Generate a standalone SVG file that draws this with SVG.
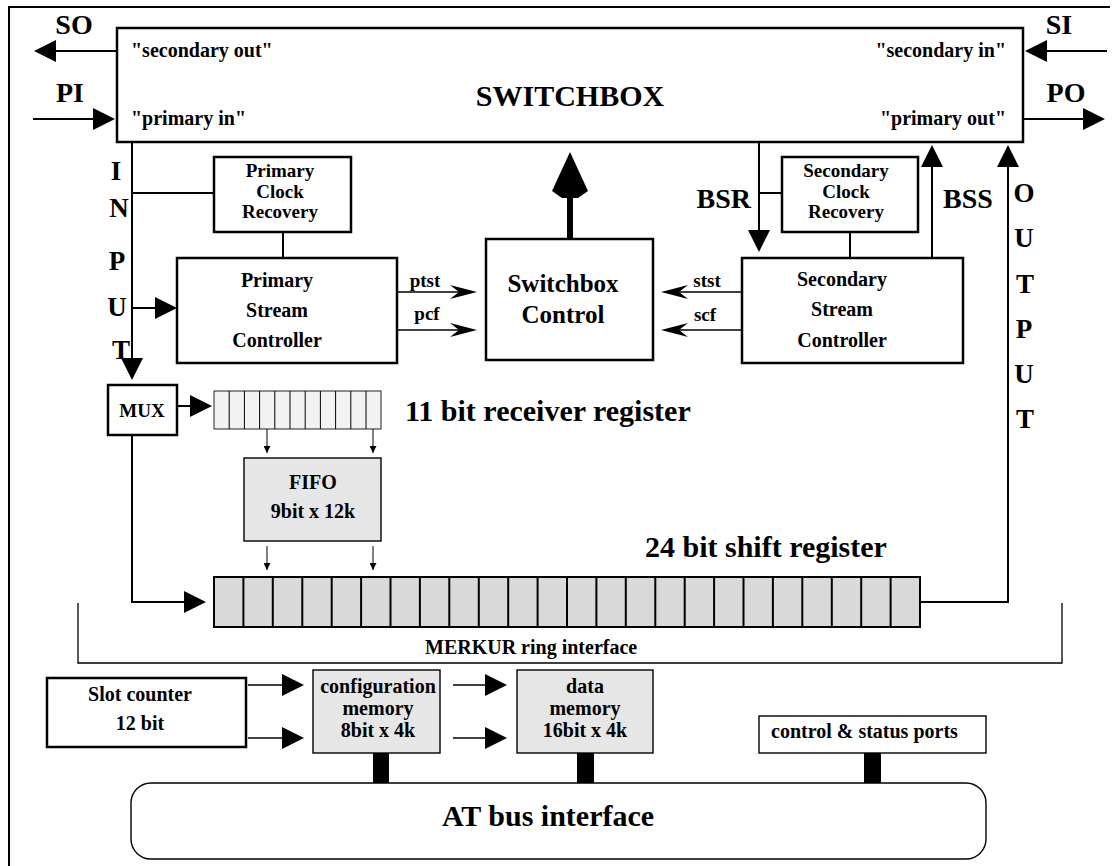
<svg xmlns="http://www.w3.org/2000/svg" width="1112" height="866" viewBox="0 0 1112 866">
<style>
.t{font-family:"Liberation Serif","Times New Roman",serif;font-weight:bold;fill:#000}
.m{text-anchor:middle}.e{text-anchor:end}
.f20{font-size:20px}.f19{font-size:19px}.f25{font-size:25px}.f27{font-size:27px}.f28{font-size:28px}.f30{font-size:30px}
.box{fill:#fff;stroke:#000;stroke-width:2.5}
.lbox{fill:#fff;stroke:#000;stroke-width:1.4}
.gbox{fill:#e6e6e6;stroke:#000;stroke-width:1.4}
.w{fill:none;stroke:#000;stroke-width:2}
.thin{fill:none;stroke:#000;stroke-width:1.3}
.hair{fill:none;stroke:#000;stroke-width:1}
.rx{fill:#f2f2f2;stroke:#222;stroke-width:1}
.sh{fill:#d9d9d9;stroke:#000;stroke-width:2}
.bar{fill:#000}
</style>
<defs>
<marker id="big" markerUnits="userSpaceOnUse" markerWidth="22" markerHeight="22" refX="16" refY="11" orient="auto"><path d="M0,0 L22,11 L0,22 Z" fill="#000"/></marker>
<marker id="stl" markerUnits="userSpaceOnUse" markerWidth="27" markerHeight="14" refX="21" refY="7" orient="auto"><path d="M0,0 L27,7 L0,14 L9,7 Z" fill="#000"/></marker>
<marker id="sm" markerUnits="userSpaceOnUse" markerWidth="7" markerHeight="7" refX="7" refY="3.5" orient="auto"><path d="M0,0 L7,3.5 L0,7 Z" fill="#000"/></marker>
</defs>
<rect width="1112" height="866" fill="#fff"/>
<g id="frame"><path class="w" d="M9,866 V7 H1110"/></g>

<g id="switchbox">
<rect class="box" x="117" y="28" width="906" height="114"/>
<text class="t f30 m" x="570" y="106">SWITCHBOX</text>
<text class="t f20" x="131" y="57">&quot;secondary out&quot;</text>
<text class="t f20" x="131" y="125">&quot;primary in&quot;</text>
<text class="t f20 e" x="1006" y="57">&quot;secondary in&quot;</text>
<text class="t f20 e" x="1006" y="125">&quot;primary out&quot;</text>
</g>
<g id="ports">
<text class="t f28 m" x="74" y="34">SO</text>
<text class="t f28 m" x="70" y="102">PI</text>
<text class="t f28 m" x="1059" y="34">SI</text>
<text class="t f28 m" x="1066" y="102">PO</text>
</g>
<g id="input-label">
<text class="t f27 m" x="116" y="180">I</text>
<text class="t f27 m" x="119" y="217">N</text>
<text class="t f27 m" x="117" y="270">P</text>
<text class="t f27 m" x="117" y="316">U</text>
<text class="t f27 m" x="121" y="359">T</text>
</g>
<g id="output-label">
<text class="t f27 m" x="1024" y="202">O</text>
<text class="t f27 m" x="1024" y="247">U</text>
<text class="t f27 m" x="1025" y="293">T</text>
<text class="t f27 m" x="1024" y="338">P</text>
<text class="t f27 m" x="1024" y="383">U</text>
<text class="t f27 m" x="1025" y="428">T</text>
</g>
<g id="pcr">
<rect class="box" x="214" y="157" width="137" height="75"/>
<text class="t f19 m" x="280" y="177">Primary</text>
<text class="t f19 m" x="280" y="198">Clock</text>
<text class="t f19 m" x="280" y="218">Recovery</text>
</g>
<g id="scr">
<rect class="box" x="782" y="157" width="136" height="75"/>
<text class="t f19 m" x="846" y="177">Secondary</text>
<text class="t f19 m" x="846" y="198">Clock</text>
<text class="t f19 m" x="846" y="218">Recovery</text>
</g>
<g id="psc">
<rect class="box" x="177" y="258" width="220" height="105"/>
<text class="t f20 m" x="277" y="287">Primary</text>
<text class="t f20 m" x="277" y="317">Stream</text>
<text class="t f20 m" x="277" y="347">Controller</text>
</g>
<g id="ssc">
<rect class="box" x="742" y="258" width="221" height="105"/>
<text class="t f20 m" x="842" y="286">Secondary</text>
<text class="t f20 m" x="842" y="316">Stream</text>
<text class="t f20 m" x="842" y="347">Controller</text>
</g>
<g id="sbc">
<rect class="box" x="486" y="239" width="167" height="121"/>
<text class="t f25 m" x="563" y="292">Switchbox</text>
<text class="t f25 m" x="563" y="323">Control</text>
</g>
<g id="mux">
<rect class="box" x="108" y="385" width="69" height="50"/>
<text class="t f19 m" x="142" y="417">MUX</text>
</g>
<g id="rxreg">
<rect class="rx" x="214" y="391" width="167" height="38"/>
<path class="hair" d="M229.2,391V429M244.4,391V429M259.6,391V429M274.8,391V429M290,391V429M305.2,391V429M320.4,391V429M335.6,391V429M350.8,391V429M366,391V429"/>
<text class="t f30" x="405" y="421">11 bit receiver register</text>
</g>
<g id="fifo">
<rect class="gbox" x="244" y="458" width="137" height="83"/>
<text class="t f20 m" x="313" y="489">FIFO</text>
<text class="t f20 m" x="313" y="518">9bit x 12k</text>
</g>
<g id="shiftreg">
<rect class="sh" x="214" y="577" width="706" height="50"/>
<path class="w" d="M243.4,577V627M272.8,577V627M302.3,577V627M331.7,577V627M361.1,577V627M390.5,577V627M419.9,577V627M449.3,577V627M478.8,577V627M508.2,577V627M537.6,577V627M567,577V627M596.4,577V627M625.8,577V627M655.3,577V627M684.7,577V627M714.1,577V627M743.5,577V627M772.9,577V627M802.3,577V627M831.8,577V627M861.2,577V627M890.6,577V627"/>
<text class="t f30" x="645" y="557">24 bit shift register</text>
</g>
<g id="merkur">
<path class="thin" d="M78,603 V663 H1062 V603"/>
<text class="t f20" x="425" y="654">MERKUR ring interface</text>
</g>
<g id="slot">
<rect class="box" x="47" y="678" width="199" height="69"/>
<text class="t f20 m" x="140" y="701">Slot counter</text>
<text class="t f20 m" x="140" y="730">12 bit</text>
</g>
<g id="config">
<rect class="gbox" x="313" y="670" width="127" height="83"/>
<text class="t f20 m" x="378" y="693">configuration</text>
<text class="t f20 m" x="378" y="715">memory</text>
<text class="t f20 m" x="378" y="737">8bit x 4k</text>
</g>
<g id="data">
<rect class="gbox" x="517" y="670" width="136" height="83"/>
<text class="t f20 m" x="585" y="693">data</text>
<text class="t f20 m" x="585" y="715">memory</text>
<text class="t f20 m" x="585" y="737">16bit x 4k</text>
</g>
<g id="ctrl">
<rect class="lbox" x="759" y="716" width="227" height="37"/>
<text class="t f20" x="771" y="738">control &amp; status ports</text>
</g>
<g id="atbus">
<rect class="lbox" x="131" y="783" width="855" height="76" rx="20"/>
<text class="t f30 m" x="548" y="826">AT bus interface</text>
</g>

<g id="connectors">
<path class="w" d="M117,51 H40" marker-end="url(#big)"/>
<path class="w" d="M33,119 H109" marker-end="url(#big)"/>
<path class="w" d="M1107,51 H1031" marker-end="url(#big)"/>
<path class="w" d="M1023,119 H1099" marker-end="url(#big)"/>
<path class="w" d="M132,142 V374" marker-end="url(#big)"/>
<path class="w" d="M132,193 H214"/>
<path class="w" d="M283,232 V258"/>
<path class="w" d="M132,308 H171" marker-end="url(#big)"/>
<path class="thin" d="M397,292 H471" marker-end="url(#stl)"/>
<path class="thin" d="M397,330 H471" marker-end="url(#stl)"/>
<path class="thin" d="M742,292 H667" marker-end="url(#stl)"/>
<path class="thin" d="M742,330 H667" marker-end="url(#stl)"/>
<text class="t f19 m" x="425" y="287">ptst</text>
<text class="t f19 m" x="427" y="320">pcf</text>
<text class="t f19 m" x="707" y="287">stst</text>
<text class="t f19 m" x="705" y="321">scf</text>
<path d="M570,239 V194" stroke="#000" stroke-width="6" fill="none"/>
<path d="M570,152 L588,191 L578,198 L562,198 L552,191 Z" fill="#000"/>
<path class="w" d="M759,142 V246" marker-end="url(#big)"/>
<path class="w" d="M759,193 H782"/>
<text class="t f28 e" x="751" y="208">BSR</text>
<path class="w" d="M850,232 V258"/>
<path class="w" d="M932,258 V151" marker-end="url(#big)"/>
<text class="t f28" x="943" y="208">BSS</text>
<path class="w" d="M920,602 H1008 V151" marker-end="url(#big)"/>
<path class="w" d="M177,406 H206" marker-end="url(#big)"/>
<path class="hair" d="M267,429 V453" marker-end="url(#sm)"/>
<path class="hair" d="M373,429 V453" marker-end="url(#sm)"/>
<path class="hair" d="M267,546 V570" marker-end="url(#sm)"/>
<path class="hair" d="M373,546 V570" marker-end="url(#sm)"/>
<path class="w" d="M132,435 V602 H200" marker-end="url(#big)"/>
<path class="thin" d="M248,685 H298" marker-end="url(#big)"/>
<path class="thin" d="M248,738 H298" marker-end="url(#big)"/>
<path class="thin" d="M453,685 H501" marker-end="url(#big)"/>
<path class="thin" d="M453,738 H501" marker-end="url(#big)"/>
<rect class="bar" x="373" y="753" width="16" height="30"/>
<rect class="bar" x="577" y="753" width="17" height="30"/>
<rect class="bar" x="864" y="753" width="17" height="30"/>
</g>
</svg>
